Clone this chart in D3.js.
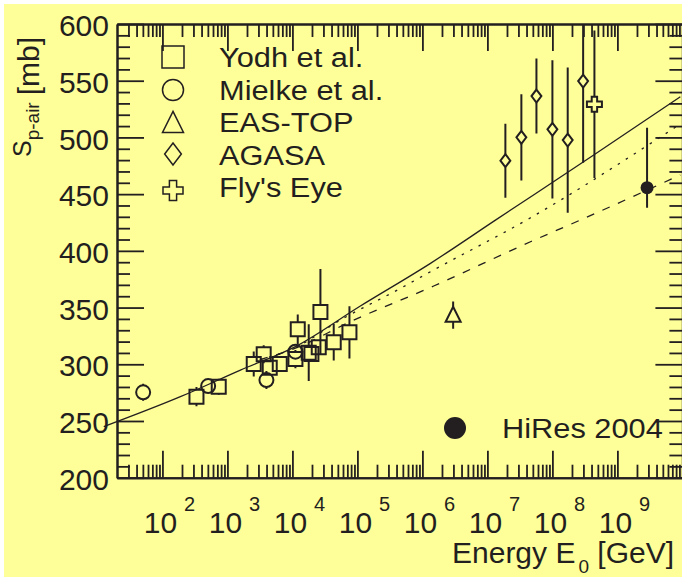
<!DOCTYPE html>
<html><head><meta charset="utf-8">
<script src="https://cdn.jsdelivr.net/npm/d3@7"></script>
<style>html,body{margin:0;padding:0;background:#fff;} svg{display:block;}</style>
</head><body><svg id="c" width="682" height="577"></svg>
<script>
// ---------- data (energy in GeV, cross section in mb) ----------
const yodhE   = [334, 735, 2540, 3614, 4477, 6383, 11120, 12078, 17820, 19600, 25400, 26970, 43200, 75400];
const yodhS   = [271.4, 280.2, 300.2, 308.8, 297.0, 300.2, 304.6, 330.8, 310.2, 309.0, 315.0, 346.1, 319.4, 328.2];
const yodhErr = [8.5, 7, 11, 8, 6, 5, 8, 13, 25, 6, 6, 38, 16, 23];

const mielkeE   = [50.5, 505, 3981, 11120];
const mielkeS   = [275.3, 280.8, 286.1, 311.1];
const mielkeErr = [7.5, 6, 8, 6];

const easE = [2.97e6], easS = [343.4], easErr = [12];

const agasaE   = [1.89e7, 3.33e7, 5.68e7, 1.0e8, 1.72e8, 2.97e8];
const agasaS   = [479.5, 500.1, 536.5, 507.1, 497.7, 549.7];
const agasaErr = [32.6, 38, 33, 61, 64, 72];

const flyE = [4.43e8], flyS = [529.2], flyErr = [65];

const hiresE = [2.86e9], hiresS = [455.7], hiresErrUp = [52.9], hiresErrDown = [17.6];

// model curves
const solidE = [12.5, 189, 1585, 11120, 1.11e5, 1.33e6, 1.33e7, 4.32e8, 9.3e9];
const solidS = [245.0, 271.4, 294.9, 315.6, 351.4, 389.0, 427.1, 484.5, 535.9];
const dotE   = [3162, 11120, 5.47e4, 4.32e5, 1.33e6, 4.4e7, 9.3e9];
const dotS   = [304.0, 314.8, 339.0, 366.1, 381.6, 428.5, 511.8];
const dashE  = [3162, 11120, 7.76e4, 1.49e6, 4.59e7, 2.7e8, 9.3e9];
const dashS  = [304.0, 314.2, 337.5, 369.0, 408.0, 427.2, 466.9];

// axes
const xMajorExp = [2, 3, 4, 5, 6, 7, 8, 9];
const xMinorMult = [2, 3, 4, 5, 6, 7, 8, 9];
const yMajor = [200, 250, 300, 350, 400, 450, 500, 550, 600];
const legendLabels = ["Yodh et al.", "Mielke et al.", "EAS-TOP", "AGASA", "Fly's Eye"];
const legendTypes  = ["square", "circle", "triangle", "diamond", "cross"];

// ---------- drawing ----------
const INK = "#231f20";
const FONT = "'Liberation Sans', Arial, Helvetica, sans-serif";
const svg = d3.select("#c");
svg.append("rect").attr("x", 4).attr("y", 4).attr("width", 678).attr("height", 573).attr("fill", "#ffff99");

const L = 117, R = 682.4, T = 24, B = 477.7;
const x = d3.scaleLog().domain([20, 1e10]).range([L, R]);
const y = d3.scaleLinear().domain([200, 600]).range([B, T]);

// tick values
const xMajor = xMajorExp.map(e => Math.pow(10, e));
const xMinor = [];
for (let e = 1; e <= 9; e++) xMinorMult.forEach(m => { const v = m * Math.pow(10, e); if (v > 20 && v < 1e10) xMinor.push(v); });
const yMinor = d3.range(200, 601, 10).filter(v => v % 50 !== 0);

function styleAxis(g) {
  g.selectAll("path").attr("stroke", INK).attr("stroke-width", 2);
  g.selectAll("line").attr("stroke", INK).attr("stroke-width", 1.8);
}
const noLab = () => "";
// bottom
svg.append("g").attr("transform", `translate(0,${B})`)
  .call(d3.axisBottom(x).tickValues(xMinor).tickSize(-13).tickSizeOuter(0).tickFormat(noLab)).call(styleAxis);
svg.append("g").attr("transform", `translate(0,${B})`)
  .call(d3.axisBottom(x).tickValues(xMajor).tickSize(-27).tickSizeOuter(0).tickFormat(noLab)).call(styleAxis);
// top
svg.append("g").attr("transform", `translate(0,${T})`)
  .call(d3.axisTop(x).tickValues(xMinor).tickSize(-13).tickSizeOuter(0).tickFormat(noLab)).call(styleAxis);
svg.append("g").attr("transform", `translate(0,${T})`)
  .call(d3.axisTop(x).tickValues(xMajor).tickSize(-27).tickSizeOuter(0).tickFormat(noLab)).call(styleAxis);
// left
svg.append("g").attr("transform", `translate(${L},0)`)
  .call(d3.axisLeft(y).tickValues(yMinor).tickSize(-13).tickSizeOuter(0).tickFormat(noLab)).call(styleAxis);
const gl = svg.append("g").attr("transform", `translate(${L},0)`)
  .call(d3.axisLeft(y).tickValues(yMajor).tickSize(-27).tickSizeOuter(0).tickPadding(8).tickFormat(d3.format("d"))).call(styleAxis);
gl.selectAll("text").attr("font-family", FONT).attr("font-size", 30).attr("fill", INK).attr("dy", "0.39em");
// right
svg.append("g").attr("transform", `translate(${R},0)`)
  .call(d3.axisRight(y).tickValues(yMinor).tickSize(-13).tickSizeOuter(0).tickFormat(noLab)).call(styleAxis);
svg.append("g").attr("transform", `translate(${R},0)`)
  .call(d3.axisRight(y).tickValues(yMajor).tickSize(-27).tickSizeOuter(0).tickFormat(noLab)).call(styleAxis);

// x tick labels 10^n
const xl = svg.append("g").attr("font-family", FONT).attr("fill", INK);
xMajorExp.forEach(e => {
  const px = x(Math.pow(10, e));
  xl.append("text").attr("x", px - 18.6).attr("y", 533.3).attr("font-size", 30).text("10");
  xl.append("text").attr("x", px + 21.5).attr("y", 510.7).attr("font-size", 20).text(String(e));
});

// axis titles
const xt = svg.append("text").attr("x", 452).attr("y", 563.3).attr("font-family", FONT).attr("font-size", 30).attr("fill", INK);
xt.append("tspan").text("Energy E");
xt.append("tspan").attr("font-size", 19).attr("dy", 10).attr("dx", 3).text("0");
xt.append("tspan").attr("dy", -10).text(" [GeV]");

const yt = svg.append("text").attr("transform", "translate(38.5,157) rotate(-90)")
  .attr("font-family", FONT).attr("font-size", 30).attr("fill", INK);
yt.append("tspan").attr("font-size", 25).attr("dy", -8).text("S");
yt.append("tspan").attr("font-size", 19).attr("dy", 8).text("p-air");
yt.append("tspan").attr("dx", 7).text("[mb]");

// curves
const line = d3.line().x(d => x(d[0])).y(d => y(d[1])).curve(d3.curveMonotoneX);
function drawCurve(E, S, dash) {
  svg.append("path").datum(E.map((e, i) => [e, S[i]])).attr("d", line)
    .attr("fill", "none").attr("stroke", INK).attr("stroke-width", 1.3)
    .attr("stroke-dasharray", dash);
}
drawCurve(solidE, solidS, null);
drawCurve(dotE, dotS, "2.5,7");
drawCurve(dashE, dashS, "8,9");

// markers
function markerPath(type, cx, cy, s) {
  const h = s / 2;
  if (type === "square") return `M${cx - h},${cy - h}h${s}v${s}h${-s}Z`;
  if (type === "triangle") return `M${cx},${cy - s * 0.55}L${cx + h},${cy + s * 0.45}L${cx - h},${cy + s * 0.45}Z`;
  if (type === "diamond") { const w = s * 0.38; return `M${cx},${cy - h}L${cx + w},${cy}L${cx},${cy + h}L${cx - w},${cy}Z`; }
  if (type === "cross") {
    const b = s * 0.18;
    return `M${cx - b},${cy - h}H${cx + b}V${cy - b}H${cx + h}V${cy + b}H${cx + b}V${cy + h}H${cx - b}V${cy + b}H${cx - h}V${cy - b}H${cx - b}Z`;
  }
  return "";
}
function halfExt(type, s) {
  if (type === "triangle") return [s * 0.55, s * 0.45];
  return [s / 2, s / 2];
}
svg.append("clipPath").attr("id", "plot").append("rect").attr("x", L).attr("y", T).attr("width", R - L).attr("height", B - T);
const dataG = svg.append("g").attr("clip-path", "url(#plot)");

function drawSeries(E, S, ErrUp, ErrDown, type, size, filled) {
  E.forEach((e, i) => {
    const cx = x(e), cy = y(S[i]);
    const yTop = y(S[i] + ErrUp[i]), yBot = y(S[i] - ErrDown[i]);
    const [ht, hb] = filled ? [0, 0] : halfExt(type, size);
    if (yTop < cy - ht) dataG.append("line").attr("x1", cx).attr("x2", cx).attr("y1", yTop).attr("y2", cy - ht)
      .attr("stroke", INK).attr("stroke-width", 2);
    if (yBot > cy + hb) dataG.append("line").attr("x1", cx).attr("x2", cx).attr("y1", cy + hb).attr("y2", yBot)
      .attr("stroke", INK).attr("stroke-width", 2);
    if (type === "circle") {
      dataG.append("circle").attr("cx", cx).attr("cy", cy).attr("r", size / 2)
        .attr("fill", filled ? INK : "none").attr("stroke", INK).attr("stroke-width", filled ? 0 : 2);
    } else {
      dataG.append("path").attr("d", markerPath(type, cx, cy, size))
        .attr("fill", "none").attr("stroke", INK).attr("stroke-width", 2).attr("stroke-linejoin", "miter");
    }
  });
}
drawSeries(yodhE, yodhS, yodhErr, yodhErr, "square", 14, false);
drawSeries(mielkeE, mielkeS, mielkeErr, mielkeErr, "circle", 14, false);
drawSeries(easE, easS, easErr, easErr, "triangle", 15, false);
drawSeries(agasaE, agasaS, agasaErr, agasaErr, "diamond", 13, false);
drawSeries(flyE, flyS, flyErr, flyErr, "cross", 15, false);
drawSeries(hiresE, hiresS, hiresErrUp, hiresErrDown, "circle", 13, true);

// legend
const legY = [57, 90, 123, 154, 190.5];
const legBase = [66.7, 100, 131.7, 164.5, 196.7];
const legSize = [22, 21, 21, 22, 20];
const STRETCH = 1.14;
function widen(sel) {
  const n = sel.node();
  const w = n.getComputedTextLength();
  sel.attr("textLength", w * STRETCH).attr("lengthAdjust", "spacingAndGlyphs");
}
const lg = svg.append("g");
legendTypes.forEach((t, i) => {
  if (t === "circle") lg.append("circle").attr("cx", 173).attr("cy", legY[i]).attr("r", legSize[i] / 2)
    .attr("fill", "none").attr("stroke", INK).attr("stroke-width", 1.5);
  else lg.append("path").attr("d", markerPath(t, 173, legY[i], legSize[i]))
    .attr("fill", "none").attr("stroke", INK).attr("stroke-width", 1.5);
  const tx = lg.append("text").attr("x", 219).attr("y", legBase[i]).attr("font-family", FONT).attr("font-size", 27)
    .attr("fill", INK).text(legendLabels[i]);
  widen(tx);
});
lg.append("circle").attr("cx", 455).attr("cy", 428).attr("r", 11).attr("fill", INK);
const ht = lg.append("text").attr("x", 502).attr("y", 438.3).attr("font-family", FONT).attr("font-size", 27)
  .attr("fill", INK).text("HiRes 2004");
widen(ht);
</script></body></html>
